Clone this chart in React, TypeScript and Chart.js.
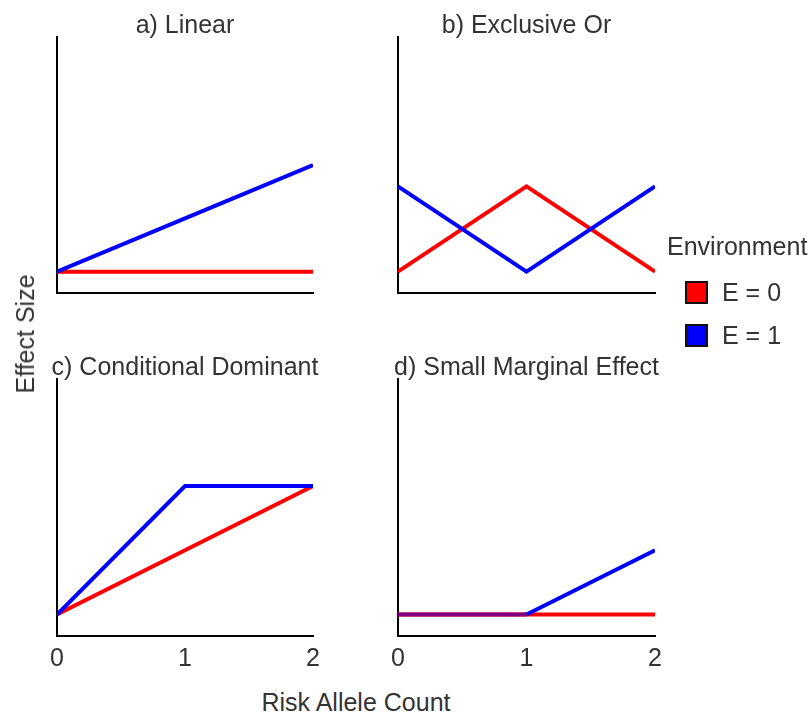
import React, { useEffect, useRef } from "react";
import { Chart, registerables } from "chart.js";

Chart.register(...registerables);

// ---------- data ----------
const alleleCounts = [0, 1, 2];
const panelTitles = [
  "a) Linear",
  "b) Exclusive Or",
  "c) Conditional Dominant",
  "d) Small Marginal Effect",
];
const envLabels = ["E = 0", "E = 1"];
const envColors = ["#ff0000", "#0000ff"];
const overlapColor = "#800080";
const linearE0 = [1, 1, 1];
const linearE1 = [1, 3.5, 6];
const xorE0 = [1, 5, 1];
const xorE1 = [5, 1, 5];
const dominantE0 = [1, 4, 7];
const dominantE1 = [1, 7, 7];
const smallE0 = [1, 1, 1];
const smallE1 = [1, 1, 4];
const yMin = 0;
const yMax = 12;
const legendTitle = "Environment";
const xAxisTitle = "Risk Allele Count";
const yAxisTitle = "Effect Size";

const FONT = "'Liberation Sans', Arial, sans-serif";
const TEXT = "#333333";
const SIDE = 40;

type PanelProps = {
  title: string;
  e0: number[];
  e1: number[];
  showTicks: boolean;
  left: number;
  top: number;
  width: number;
  height: number;
  titlePadTop: number;
};

function Panel(p: PanelProps) {
  const ref = useRef<HTMLCanvasElement | null>(null);
  useEffect(() => {
    if (!ref.current) return;
    const pts0 = alleleCounts.map((x, i) => ({ x, y: p.e0[i] }));
    const pts1 = alleleCounts.map((x, i) => ({ x, y: p.e1[i] }));
    const chart = new Chart(ref.current, {
      type: "line",
      data: {
        datasets: [
          {
            label: envLabels[1],
            data: pts1,
            borderColor: envColors[1],
            borderWidth: 4,
            pointRadius: 0,
            tension: 0,
            order: 1,
            segment: {
              borderColor: (ctx: any) =>
                p.e1[ctx.p0DataIndex] === p.e0[ctx.p0DataIndex] &&
                p.e1[ctx.p1DataIndex] === p.e0[ctx.p1DataIndex]
                  ? overlapColor
                  : envColors[1],
            },
          },
          {
            label: envLabels[0],
            data: pts0,
            borderColor: envColors[0],
            borderWidth: 4,
            pointRadius: 0,
            tension: 0,
            order: 2,
          },
        ],
      },
      options: {
        responsive: false,
        animation: false,
        layout: { padding: { left: 0, right: 0, top: 0, bottom: p.showTicks ? 5 : 10 } },
        plugins: {
          legend: { display: false },
          tooltip: { enabled: false },
          title: {
            display: true,
            text: p.title,
            color: TEXT,
            font: { family: FONT, size: 25, weight: "normal", lineHeight: 0.84 },
            padding: { top: p.titlePadTop, bottom: 0 },
          },
        },
        scales: {
          x: {
            type: "linear",
            min: 0,
            max: 2,
            grid: { display: false, drawTicks: false },
            border: { display: true, color: "#000000", width: 2 },
            ticks: {
              display: p.showTicks,
              stepSize: 1,
              padding: 8,
              color: TEXT,
              font: { family: FONT, size: 25 },
              maxRotation: 0,
            },
          },
          y: {
            type: "linear",
            position: "left",
            min: yMin,
            max: yMax,
            grid: { display: false, drawTicks: false },
            border: { display: true, color: "#000000", width: 2 },
            ticks: { display: false },
            afterFit: (s: any) => {
              s.width = SIDE;
            },
          },
          yRight: {
            type: "linear",
            position: "right",
            min: yMin,
            max: yMax,
            grid: { display: false, drawTicks: false },
            border: { display: false },
            ticks: { display: false },
            afterFit: (s: any) => {
              s.width = SIDE;
            },
          },
        },
      },
    } as any);
    return () => chart.destroy();
  }, []);
  return (
    <canvas
      ref={ref}
      width={p.width}
      height={p.height}
      style={{ position: "absolute", left: p.left, top: p.top, width: p.width, height: p.height }}
    />
  );
}

export default function App() {
  const textStyle: React.CSSProperties = {
    position: "absolute",
    fontFamily: FONT,
    color: TEXT,
    fontSize: 25,
    lineHeight: "30px",
    whiteSpace: "nowrap",
  };
  return (
    <div
      style={{
        position: "fixed",
        left: 0,
        top: 0,
        width: 812,
        height: 716,
        background: "#ffffff",
        overflow: "hidden",
      }}
    >
      <Panel title={panelTitles[0]} e0={linearE0} e1={linearE1} showTicks={false} left={17} top={0} width={336} height={303} titlePadTop={16} />
      <Panel title={panelTitles[1]} e0={xorE0} e1={xorE1} showTicks={false} left={358} top={0} width={337} height={303} titlePadTop={16} />
      <Panel title={panelTitles[2]} e0={dominantE0} e1={dominantE1} showTicks={true} left={17} top={340} width={336} height={347} titlePadTop={18} />
      <Panel title={panelTitles[3]} e0={smallE0} e1={smallE1} showTicks={true} left={358} top={340} width={337} height={347} titlePadTop={18} />

      {/* y axis title */}
      <div
        style={{
          ...textStyle,
          left: 25,
          top: 334,
          transform: "translate(-50%, -50%) rotate(-90deg)",
        }}
      >
        {yAxisTitle}
      </div>
      {/* x axis title */}
      <div style={{ ...textStyle, left: 356, top: 702, transform: "translate(-50%, -50%)" }}>
        {xAxisTitle}
      </div>

      {/* legend */}
      <div style={{ ...textStyle, left: 667, top: 231 }}>{legendTitle}</div>
      {envLabels.map((lab, i) => (
        <React.Fragment key={lab}>
          <div
            style={{
              position: "absolute",
              left: 685,
              top: 281 + i * 43,
              width: 19,
              height: 19,
              background: envColors[i],
              border: "2px solid #111111",
            }}
          />
          <div style={{ ...textStyle, left: 722, top: 277 + i * 43 }}>{lab}</div>
        </React.Fragment>
      ))}
    </div>
  );
}
